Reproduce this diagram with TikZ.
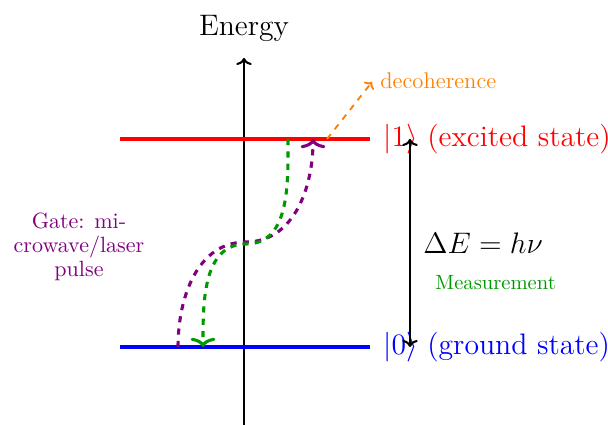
\documentclass[tikz,border=0pt]{standalone}
\usetikzlibrary{arrows.meta}
\definecolor{qpurple}{RGB}{128,0,128}
\definecolor{qgreen}{RGB}{0,153,0}
\definecolor{qorange}{RGB}{255,128,0}
\begin{document}
\begin{tikzpicture}[x=0.4854pt,y=-0.4854pt,
  lbl/.style={inner sep=0pt},
  big/.style={lbl,font=\Large},
  level/.style={line width=1.5pt},
  axisline/.style={line width=1pt,-{To[length=3.4pt,width=7.5pt]}},
  trans/.style={line width=1.5pt,dashed,-{To[length=4.5pt,width=12pt]}},
  ]
\useasboundingbox (0,0) rectangle (608,425);
% axis
\coordinate (axb) at (244,425);
\coordinate (axt) at (244,58);
\draw[axisline] (axb) -- (axt);
\node[big] (energy) at (244,28) {Energy};
% levels
\coordinate (r0) at (120,139); \coordinate (r1) at (370,139);
\coordinate (b0) at (120,347); \coordinate (b1) at (370,347);
\draw[level,red] (r0) -- (r1);
\draw[level,blue] (b0) -- (b1);
\node[big,anchor=west,text=red] (ket1) at (383,139) {$|1\rangle$ (excited state)};
\node[big,anchor=west,text=blue] (ket0) at (383,347) {$|0\rangle$ (ground state)};
% energy gap arrow
\coordinate (m1) at (410,139);
\coordinate (m0) at (410,347);
\draw[line width=1pt,{To[length=3.4pt,width=7.5pt]}-{To[length=3.4pt,width=7.5pt]}] (m0) -- (m1);
\node[big,anchor=west] (de) at (423,243) {$\Delta E = h\nu$};
\node[lbl,anchor=west,text=qgreen,font=\normalsize] (meas) at (435,283) {Measurement};
% decoherence
\coordinate (d0) at (327,139);
\coordinate (d1) at (372,82);
\draw[line width=0.9pt,dashed,qorange,-{To[length=2.8pt,width=6pt]}] (d0) -- (d1);
\node[lbl,anchor=west,text=qorange,font=\fontsize{11}{13}\selectfont] (dec) at (380,81) {decoherence};
% gate label
\node[lbl,text=qpurple,align=center,font=\fontsize{10.7}{11.7}\selectfont] (gate) at (79,247)
  {Gate: mi-\\crowave/laser\\pulse};
% transitions
\coordinate (p0) at (178,347);
\coordinate (pm) at (246,242);
\coordinate (p1) at (313,139);
\draw[trans,qpurple] (p0) to[out=90,in=180] (pm) to[out=0,in=-90] (p1);
\coordinate (g0) at (288,139);
\coordinate (gm) at (246,244);
\coordinate (g1) at (203,347);
\draw[trans,qgreen] (g0) to[out=-90,in=0] (gm) to[out=180,in=90] (g1);
\end{tikzpicture}
\end{document}
